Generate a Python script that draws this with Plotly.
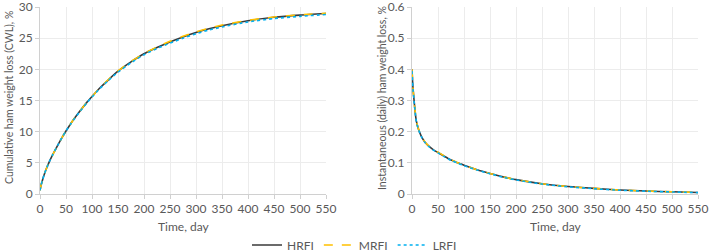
import plotly.graph_objects as go

# Cumulative weight loss (CWL), %
days_c = [0, 2, 5, 8, 12, 18, 25, 34, 42, 50, 60, 75, 90, 100, 115, 130, 150, 175, 200, 225, 250, 275, 300, 325, 350, 400, 450, 500, 550]
cwl_hrfi = [0.6, 1.4, 2.3, 3.1, 4.0, 5.2, 6.4, 7.8, 9.0, 10.1, 11.4, 13.1, 14.7, 15.65, 17.0, 18.2, 19.7, 21.2, 22.5, 23.5, 24.4, 25.2, 25.9, 26.5, 27.0, 27.8, 28.35, 28.7, 28.95]
cwl_mrfi = [0.6, 1.4, 2.3, 3.1, 4.0, 5.2, 6.4, 7.8, 9.0, 10.1, 11.4, 13.1, 14.7, 15.65, 17.0, 18.25, 19.75, 21.25, 22.55, 23.55, 24.5, 25.3, 26.0, 26.6, 27.1, 27.85, 28.4, 28.75, 29.0]
cwl_lrfi = [0.6, 1.4, 2.3, 3.1, 4.0, 5.2, 6.4, 7.8, 9.0, 10.1, 11.35, 13.05, 14.6, 15.55, 16.9, 18.1, 19.55, 21.05, 22.35, 23.35, 24.2, 25.0, 25.7, 26.3, 26.8, 27.6, 28.15, 28.5, 28.8]

# Instantaneous (daily) weight loss, %
days_i = [0, 1, 2, 4, 6, 8, 12, 18, 25, 34, 42, 50, 62, 75, 88, 100, 125, 150, 175, 200, 250, 300, 350, 400, 450, 500, 550]
iwl_hrfi = [0.40, 0.365, 0.338, 0.30, 0.265, 0.237, 0.210, 0.185, 0.166, 0.151, 0.141, 0.133, 0.121, 0.109, 0.100, 0.092, 0.078, 0.066, 0.055, 0.046, 0.033, 0.024, 0.018, 0.013, 0.0095, 0.007, 0.005]
iwl_mrfi = [0.40, 0.366, 0.339, 0.301, 0.266, 0.238, 0.211, 0.186, 0.167, 0.152, 0.142, 0.134, 0.122, 0.110, 0.100, 0.093, 0.078, 0.066, 0.055, 0.046, 0.033, 0.024, 0.018, 0.013, 0.0095, 0.007, 0.005]
iwl_lrfi = [0.395, 0.362, 0.336, 0.298, 0.263, 0.236, 0.209, 0.184, 0.165, 0.150, 0.140, 0.132, 0.120, 0.108, 0.099, 0.091, 0.077, 0.065, 0.054, 0.045, 0.032, 0.023, 0.017, 0.012, 0.009, 0.0065, 0.0045]

x_ticks = list(range(0, 551, 50))

styles = {
    "HRFI": dict(color="#3a3a3a", width=1.6, dash="solid"),
    "MRFI": dict(color="#FFC000", width=1.6, dash="dash"),
    "LRFI": dict(color="#00B0F0", width=1.6, dash="dot"),
}

fig = go.Figure()
for name, ys in [("HRFI", cwl_hrfi), ("MRFI", cwl_mrfi), ("LRFI", cwl_lrfi)]:
    fig.add_trace(go.Scatter(x=days_c, y=ys, mode="lines", name=name,
                             line=dict(shape="spline", smoothing=0.6, **styles[name]),
                             xaxis="x", yaxis="y", showlegend=True))
for name, ys in [("HRFI", iwl_hrfi), ("MRFI", iwl_mrfi), ("LRFI", iwl_lrfi)]:
    fig.add_trace(go.Scatter(x=days_i, y=ys, mode="lines", name=name,
                             line=dict(shape="spline", smoothing=0.6, **styles[name]),
                             xaxis="x2", yaxis="y2", showlegend=False))

FAM = "Lato, Open Sans, sans-serif"
font = dict(family=FAM, size=12, color="#595959")
tfont = dict(family=FAM, size=10.5, color="#595959")
grid = "#ececec"
axline = "#d0d0d0"

common_x = dict(range=[0, 550], tickvals=x_ticks, showgrid=True, gridcolor=grid, gridwidth=1,
                showline=True, linecolor=axline, ticks="outside", ticklen=4, tickcolor=axline,
                zeroline=False, tickfont=font, ticklabeloverflow="allow")
common_y = dict(showgrid=True, gridcolor=grid, gridwidth=1, showline=True, linecolor=axline,
                ticks="outside", ticklen=4, tickcolor=axline, zeroline=False, tickfont=font,
                ticklabeloverflow="allow")

W, H = 709, 252
B = 40           # reserved bottom margin (legend would push it anyway)
PH = H - B       # paper height in px


def py(px):
    """pixel row from top -> paper fraction"""
    return (PH - px) / PH


fig.update_layout(
    width=W, height=H,
    margin=dict(l=0, r=0, t=0, b=B, autoexpand=False),
    paper_bgcolor="white", plot_bgcolor="white",
    font=font,
    xaxis=dict(domain=[40 / W, 326 / W], anchor="y", **common_x),
    yaxis=dict(domain=[py(194), py(7)], anchor="x", range=[0, 30],
               tickvals=[0, 5, 10, 15, 20, 25, 30], **common_y),
    xaxis2=dict(domain=[412 / W, 698 / W], anchor="y2", **common_x),
    yaxis2=dict(domain=[py(194), py(7)], anchor="x2", range=[0, 0.6],
                tickvals=[0, 0.1, 0.2, 0.3, 0.4, 0.5, 0.6],
                ticktext=["0", "0.1", "0.2", "0.3", "0.4", "0.5", "0.6"], **common_y),
    legend=dict(orientation="h", x=0.5, xanchor="center", xref="container",
                y=1 - 245 / H, yanchor="middle", yref="container",
                font=font, itemwidth=30, tracegroupgap=0, bgcolor="rgba(0,0,0,0)"),
    showlegend=True,
    annotations=[
        dict(text="Time, day", x=183 / W, y=py(226), xref="paper", yref="paper",
             xanchor="center", yanchor="middle", showarrow=False, font=font),
        dict(text="Time, day", x=555 / W, y=py(226), xref="paper", yref="paper",
             xanchor="center", yanchor="middle", showarrow=False, font=font),
        dict(text="Cumulative ham weight loss (CWL), %", x=9 / W, y=py(98), xref="paper", yref="paper",
             xanchor="center", yanchor="middle", showarrow=False, textangle=-90, font=tfont),
        dict(text="Instantaneous (daily) ham weight loss, %", x=382 / W, y=py(98), xref="paper", yref="paper",
             xanchor="center", yanchor="middle", showarrow=False, textangle=-90, font=tfont),
    ],
)

fig.write_html("out.html")
